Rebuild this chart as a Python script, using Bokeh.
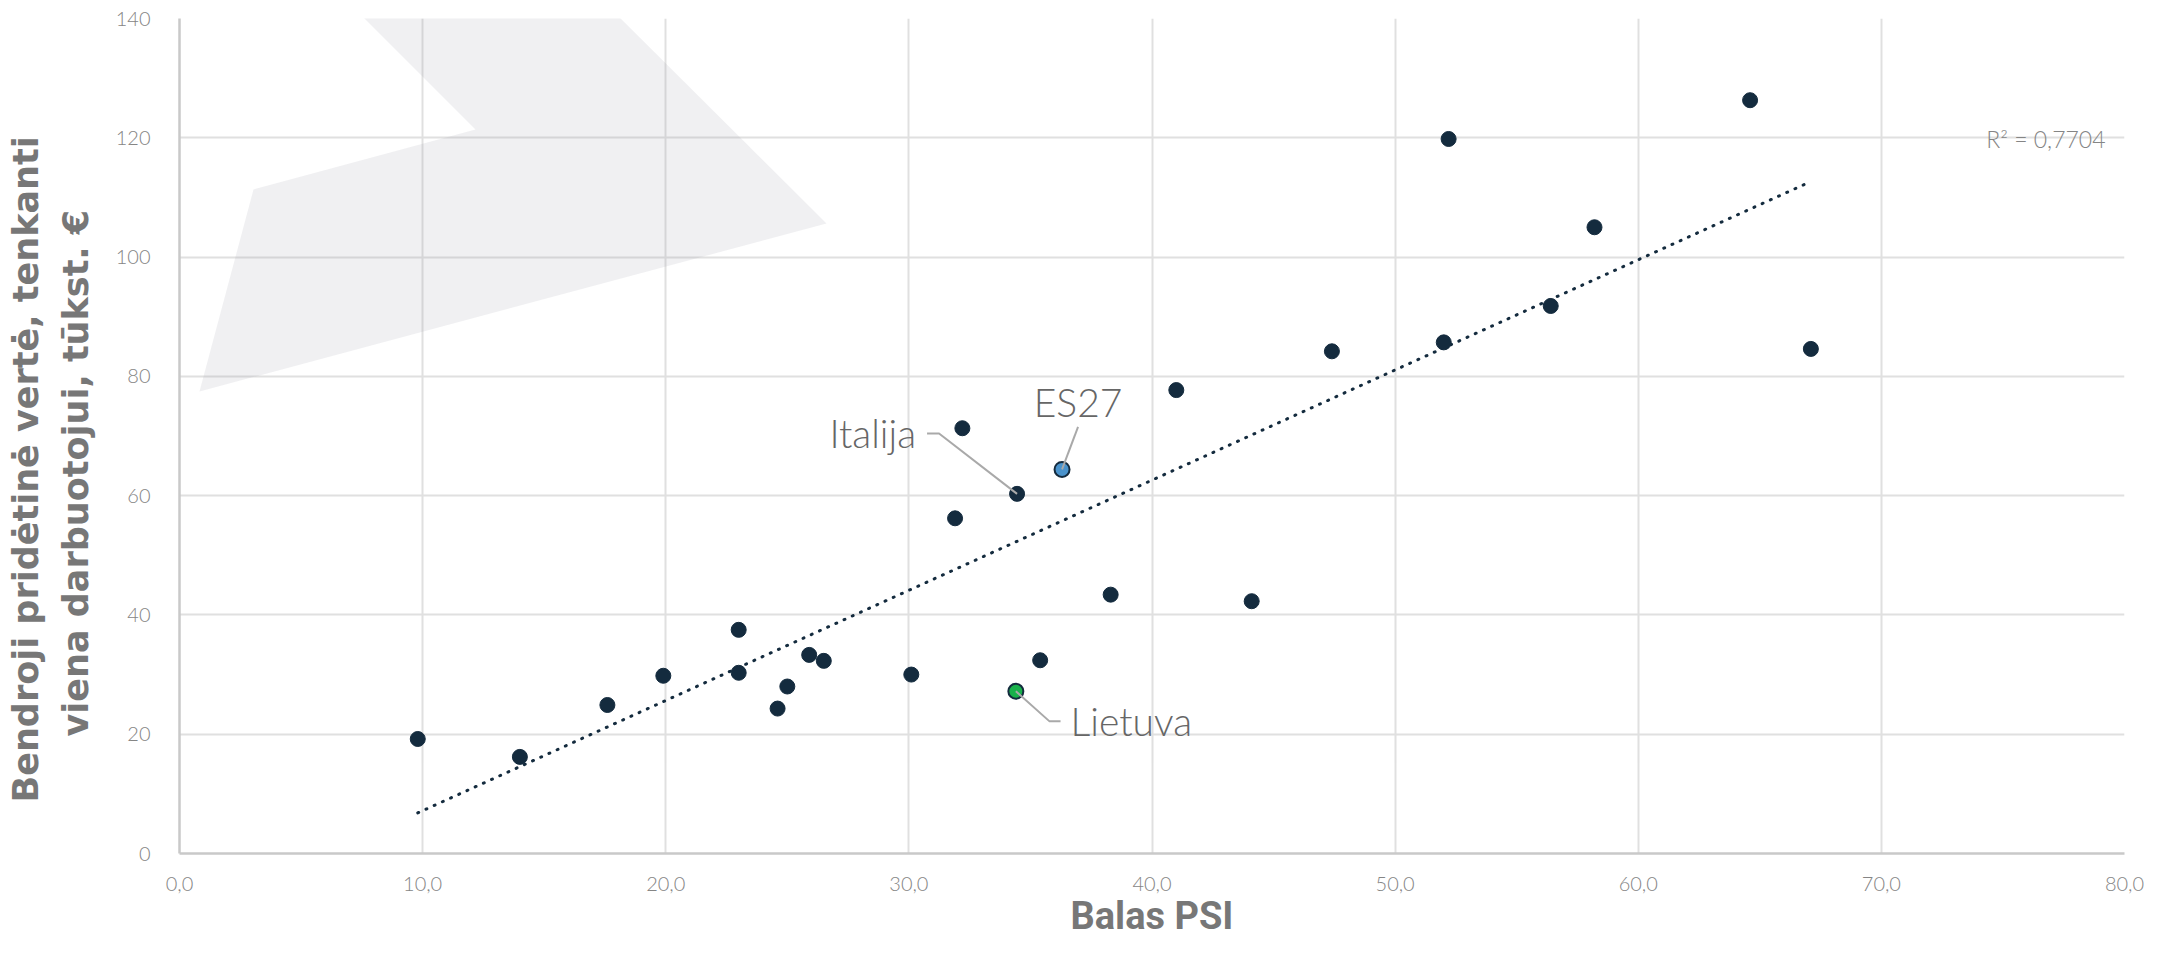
import numpy as np
from bokeh.plotting import figure
from bokeh.models import Range1d, FixedTicker, Label, PolyAnnotation, Title
from bokeh.embed import file_html
from bokeh.resources import INLINE

# ---- data ----
psi = [9.8, 14.0, 17.6, 19.9, 23.0, 23.0, 24.6, 25.0, 25.9, 26.5, 30.1, 31.9,
       32.2, 35.4, 38.3, 41.0, 44.1, 47.4, 52.0, 52.2, 56.4, 58.2, 64.6, 67.1]
gva = [19.2, 16.2, 24.9, 29.8, 37.5, 30.3, 24.3, 28.0, 33.3, 32.3, 30.0, 56.2,
       71.3, 32.4, 43.4, 77.7, 42.3, 84.2, 85.7, 119.8, 91.8, 105.0, 126.3, 84.6]

italy_name = "Italija"
italy_psi = 34.45
italy_gva = 60.3

eu_name = "ES27"
eu_psi = 36.3
eu_gva = 64.4

lt_name = "Lietuva"
lt_psi = 34.4
lt_gva = 27.2

r2_text = "R² = 0,7704"

x_ticks = [0, 10, 20, 30, 40, 50, 60, 70, 80]
x_tick_labels = ["0,0", "10,0", "20,0", "30,0", "40,0", "50,0", "60,0", "70,0", "80,0"]
y_ticks = [0, 20, 40, 60, 80, 100, 120, 140]
y_tick_labels = ["0", "20", "40", "60", "80", "100", "120", "140"]

x_title = "Balas PSI"
y_title_1 = "Bendroji pridėtinė vertė, tenkanti"
y_title_2 = "viena darbuotojui, tūkst. €"

# decorative watermark polygon (canvas pixels)
wm_xs = [330, 475, 253, 199, 826, 586]
wm_ys = [-16, 129, 189, 391, 223, -16]

# ---- figure ----
W, H = 2144, 940
ML, MR, MT, MB = 179, 20, 18, 83
p = figure(width=W, height=H, x_range=Range1d(0, 80), y_range=Range1d(0, 140),
           output_backend="svg", toolbar_location=None,
           min_border_left=ML, min_border_right=MR, min_border_top=MT, min_border_bottom=MB)
p.outline_line_color = None
p.background_fill_color = "white"
p.border_fill_color = "white"

fw = W - ML - MR
fh = H - MT - MB
px_x = fw / 80.0
px_y = fh / 140.0
frame_bottom = H - MB

# watermark
p.add_layout(PolyAnnotation(xs=wm_xs, ys=wm_ys, xs_units="canvas", ys_units="canvas",
                            fill_color="#9a9aa6", fill_alpha=0.15, line_color=None,
                            level="underlay"))

light = "Lato Light"
title_color = "#777777"

# axes & grid
for ax in (p.xaxis[0], p.yaxis[0]):
    ax.axis_line_color = "#c9c9c9"
    ax.axis_line_width = 2.5
    ax.major_tick_line_color = None
    ax.minor_tick_line_color = None
    ax.major_label_text_font = light
    ax.major_label_text_font_size = "20px"
    ax.major_label_text_color = "#858585"

p.xaxis.ticker = FixedTicker(ticks=x_ticks)
p.yaxis.ticker = FixedTicker(ticks=y_ticks)
p.xaxis.major_label_overrides = {t: l for t, l in zip(x_ticks, x_tick_labels)}
p.yaxis.major_label_overrides = {t: l for t, l in zip(y_ticks, y_tick_labels)}
p.xaxis.major_label_standoff = 17
p.yaxis.major_label_standoff = 23

p.xaxis.axis_label = x_title
p.xaxis.axis_label_text_font = "Roboto"
p.xaxis.axis_label_text_font_style = "bold"
p.xaxis.axis_label_text_font_size = "38px"
p.xaxis.axis_label_text_color = title_color
p.xaxis.axis_label_standoff = 0

p.xgrid.grid_line_color = "#e0e0e0"
p.ygrid.grid_line_color = "#e0e0e0"
p.xgrid.grid_line_width = 2
p.ygrid.grid_line_width = 2

# y-axis title as two stacked side titles (nearest to the frame first)
p.add_layout(Title(text=y_title_2, align="left", offset=frame_bottom - 740, standoff=33,
                   text_font="DejaVu Sans", text_font_style="bold", text_font_size="35px",
                   text_color=title_color), "left")
p.add_layout(Title(text=y_title_1, align="left", offset=frame_bottom - 806, standoff=-16,
                   text_font="DejaVu Sans", text_font_style="bold", text_font_size="35px",
                   text_color=title_color), "left")

# trend line (least squares over all points)
all_x = np.array(psi + [italy_psi, eu_psi, lt_psi])
all_y = np.array(gva + [italy_gva, eu_gva, lt_gva])
slope, intercept = np.polyfit(all_x, all_y, 1)
tx = np.array([all_x.min(), all_x.max()])
p.line(tx, slope * tx + intercept, line_color="#142b3e", line_width=3,
       line_dash="1 8", line_cap="round")

# points
dark = "#142b3e"
p.scatter(psi + [italy_psi], gva + [italy_gva], size=15, fill_color=dark, line_color=dark)
p.scatter([eu_psi], [eu_gva], size=15, fill_color="#4a93cc", line_color=dark, line_width=2)
p.scatter([lt_psi], [lt_gva], size=15, fill_color="#19b14b", line_color=dark, line_width=2)

lead = "#a9a9a9"
ann_size = "39px"
ann_color = "#666666"

# Italija: label left-above, elbow leader
ix = [italy_psi - 90 / px_x, italy_psi - 78 / px_x, italy_psi]
iy = [italy_gva + 60.7 / px_y, italy_gva + 60.7 / px_y, italy_gva]
p.line(ix, iy, line_color=lead, line_width=2)
p.add_layout(Label(x=italy_psi, y=italy_gva, x_offset=-101, y_offset=60.7, text=italy_name,
                   text_align="right", text_baseline="middle", text_font=light,
                   text_font_size=ann_size, text_color=ann_color))

# ES27: label above
ex = [eu_psi + 16 / px_x, eu_psi]
ey = [eu_gva + 42.7 / px_y, eu_gva]
p.line(ex, ey, line_color=lead, line_width=2)
p.add_layout(Label(x=eu_psi, y=eu_gva, x_offset=16, y_offset=67.7, text=eu_name,
                   text_align="center", text_baseline="middle", text_font=light,
                   text_font_size=ann_size, text_color=ann_color))

# Lietuva: label right-below
lx = [lt_psi, lt_psi + 33.4 / px_x, lt_psi + 44.7 / px_x]
ly = [lt_gva, lt_gva - 30 / px_y, lt_gva - 30 / px_y]
p.line(lx, ly, line_color=lead, line_width=2)
p.add_layout(Label(x=lt_psi, y=lt_gva, x_offset=54.7, y_offset=-30, text=lt_name,
                   text_align="left", text_baseline="middle", text_font=light,
                   text_font_size=ann_size, text_color=ann_color))

# R² label
p.add_layout(Label(x=80, y=120, x_offset=-19, y_offset=-1, text=r2_text,
                   text_align="right", text_baseline="middle", text_font=light,
                   text_font_size="23px", text_color="#858585"))

open("out.html", "w").write(file_html(p, INLINE))
